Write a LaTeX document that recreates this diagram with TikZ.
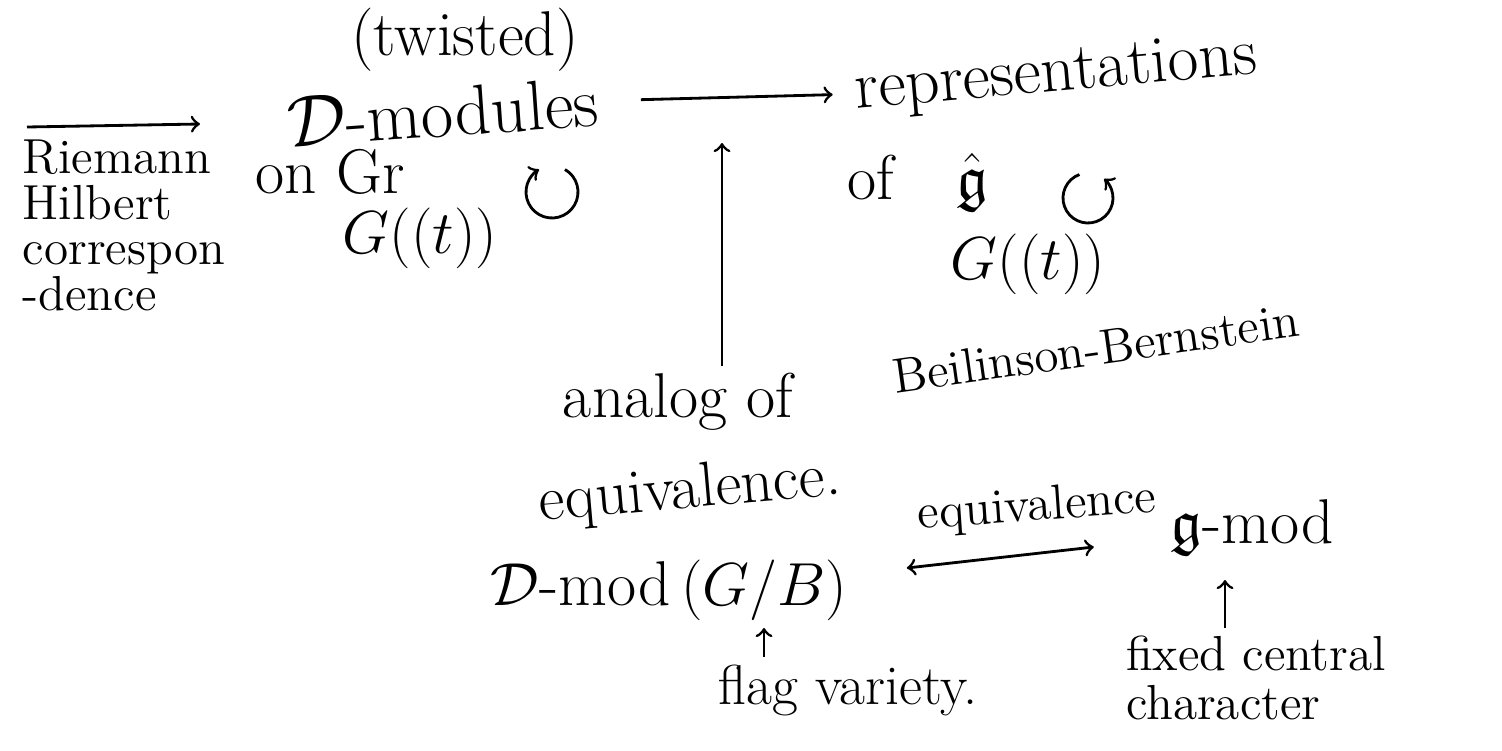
\documentclass[tikz,border=0pt]{standalone}
\usepackage{amsmath,amssymb}
\usepackage{fontspec}
\usepackage{tikz}
\usetikzlibrary{arrows,positioning,calc}

\begin{document}
\begin{tikzpicture}[
    x=0.01cm, y=-0.01cm,
    mytext/.style={inner sep=2pt, font=\fontsize{18}{22}\selectfont},
    mysmall/.style={inner sep=2pt, font=\fontsize{14}{13}\selectfont, align=left},
    myedge/.style={->, thick, >=to},
    myturn/.style={->, thick, >=to}
]
\useasboundingbox (0,0) rectangle (1502,751);

% top row
\node[mytext] (twisted) at (465,40) {(twisted)};
\node[mytext, font=\fontsize{20}{24}\selectfont, rotate=4] (dmod) at (443,112) {$\mathcal{D}$-modules};
\node[mytext] (ongr) at (330,172) {on $\mathrm{Gr}$};
\node[mytext] (gt1) at (420,238) {$G((t))$};
\node[mytext, font=\fontsize{19}{23}\selectfont, rotate=5] (rep) at (1056,76) {representations};
\node[mytext] (ofg) at (918,182) {of\quad$\hat{\mathfrak{g}}$};
\node[mytext] (gt2) at (1028,264) {$G((t))$};
\node[mysmall, anchor=north west] (rh) at (15,132) {Riemann\\Hilbert\\correspon\\-dence};

\coordinate (rhtail) at (27,127);
\coordinate (rhtip) at (200,124);
\coordinate (turn1) at (552,192);
\coordinate (turn2) at (1088,198);
\coordinate (bbtip) at (722,143);

\draw[myedge] (rhtail) -- (rhtip);
\draw[myedge, shorten <=3.5mm, shorten >=1.5mm] (dmod.east) -- (rep.west);
\draw[myturn] (turn1) ++(-60:26) arc[start angle=-60, end angle=240, radius=26];
\draw[myturn] (turn2) ++(-110:25) arc[start angle=-110, end angle=-410, radius=25];

% middle
\node[mytext] (analog) at (678,402) {analog of};
\node[mysmall, rotate=8] (beil) at (1096,348) {Beilinson-Bernstein};
\node[mytext, rotate=5] (equiv) at (690,492) {equivalence.};
\draw[myedge] (analog.north -| bbtip) -- (bbtip);

% bottom row
\node[mytext] (dmodgb) at (669,590) {$\mathcal{D}$-mod\,$(G/B)$};
\node[mytext] (gmod) at (1252,528) {$\mathfrak{g}$-mod};
\node[mysmall, rotate=4] (equiv2) at (1037,508) {equivalence};
\node[mytext, font=\fontsize{16}{19}\selectfont] (flag) at (848,690) {flag variety.};
\node[mysmall, font=\fontsize{14}{14}\selectfont] (fixed) at (1256,678) {fixed central\\character};

\coordinate (flagtip) at (764,628);
\coordinate (chartip) at (1225,580);

\draw[myedge, <->] ($(dmodgb.east)+(52,-22)$) -- ($(gmod.west)+(-69,19)$);
\draw[myedge] (flag.north -| flagtip) -- (flagtip);
\draw[myedge] (fixed.north -| chartip) -- (chartip);
\end{tikzpicture}
\end{document}
